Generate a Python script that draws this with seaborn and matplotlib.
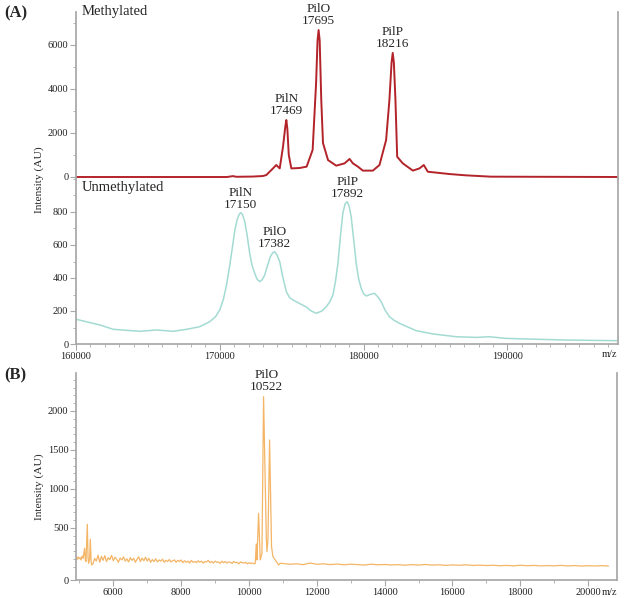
import pandas as pd
import seaborn as sns
import matplotlib.pyplot as plt
from matplotlib.ticker import MultipleLocator, FixedLocator

# (A) methylated trace, x in the axis units shown on the ticks
meth_mz = [160000, 170500, 170920, 171150, 172300, 173000, 173240, 173700, 173930, 174170,
           174400, 174560, 174630, 174700, 174800, 174980, 175560, 176040, 176460, 176700,
           176800, 176875, 176950, 177060, 177180, 177530, 178100, 178680, 179030, 179260,
           179610, 179950, 180650, 181110, 181570, 181800, 181950, 182030, 182110, 182220,
           182340, 182730, 183430, 183890, 184190, 184470, 185970, 187130, 188870, 197700]
meth_int = [0, 0, 40, 10, 20, 45, 90, 390, 545, 390,
            1380, 2300, 2590, 2200, 1000, 390, 410, 470, 1230, 4270,
            6200, 6680, 6200, 3500, 1545, 770, 515, 620, 820, 620,
            470, 290, 290, 545, 1680, 3500, 5200, 5640, 5200, 3500,
            920, 620, 290, 390, 545, 240, 135, 75, 15, 0]

# (A) unmethylated trace
unmeth_mz = [160000, 161670, 162590, 164440, 165600, 166760, 167690, 168610, 169300, 169700,
             170000, 170250, 170470, 170700, 170920, 171050, 171200, 171350, 171460, 171580,
             171740, 171900, 172080, 172250, 172430, 172600, 172780, 172950, 173125, 173320,
             173520, 173680, 173820, 173980, 174170, 174400, 174630, 174850, 175090, 175560,
             176000, 176370, 176715, 177100, 177410, 177650, 177870, 178050, 178220, 178400,
             178560, 178720, 178870, 179000, 179140, 179320, 179490, 179660, 179840, 180000,
             180190, 180450, 180760, 181000, 181230, 181500, 181800, 182100, 182500, 183660,
             184820, 186440, 187830, 188750, 189910, 194080, 197700]
unmeth_int = [150, 115, 89, 77, 85, 77, 89, 105, 135, 165,
              206, 270, 358, 480, 610, 690, 751, 785, 796, 785,
              741, 660, 550, 475, 428, 392, 378, 390, 418, 475,
              529, 553, 559, 540, 499, 400, 317, 282, 267, 245,
              225, 200, 186, 200, 226, 255, 297, 380, 489, 660,
              792, 850, 862, 835, 771, 630, 489, 395, 337, 305,
              291, 300, 307, 285, 256, 205, 166, 145, 125, 81,
              61, 44, 40, 44, 34, 24, 20]

meth_peaks = [(174630, 2590, "PilN\n17469"), (176875, 6680, "PilO\n17695"), (182030, 5640, "PilP\n18216")]
unmeth_peaks = [(171460, 796, "PilN\n17150"), (173820, 559, "PilO\n17382"), (178870, 862, "PilP\n17892")]

# (B) spectrum
b_mz = [4900, 4930, 4960, 4990, 5020, 5050, 5080, 5110, 5154, 5175, 5195, 5234, 5255, 5272,
        5300, 5322, 5345, 5361,
        5400, 5450, 5500, 5550, 5600, 5650, 5700, 5750, 5800, 5850, 5900, 5950, 6000, 6050,
        6100, 6150, 6200, 6250, 6300, 6350, 6400, 6450, 6500, 6550, 6600, 6650, 6700, 6750,
        6800, 6850, 6900, 6950, 7000, 7050, 7100, 7150, 7200, 7250, 7300, 7350, 7400, 7450,
        7500, 7550, 7600, 7650, 7700, 7750, 7800, 7850, 7900, 7950, 8000, 8050, 8100, 8150,
        8200, 8250, 8300, 8350, 8400, 8450, 8500, 8550, 8600, 8650, 8700, 8750, 8800, 8850,
        8900, 8950, 9000, 9050, 9100, 9150, 9200, 9250, 9300, 9350, 9400, 9450, 9500, 9550,
        9600, 9650, 9700, 9750, 9800, 9850, 9900, 9950, 10000, 10050, 10100, 10150,
        10185, 10214, 10234, 10283, 10332, 10382, 10430, 10510, 10530, 10559, 10607, 10665,
        10706, 10774, 10872, 10921,
        11000, 11200, 11400, 11600, 11800, 12000, 12200, 12400, 12600, 12800, 13000, 13200,
        13400, 13600, 13800, 14000, 14200, 14400, 14600, 14800, 15000, 15200, 15400, 15600,
        15800, 16000, 16200, 16400, 16600, 16800, 17000, 17200, 17400, 17600, 17800, 18000,
        18200, 18400, 18600, 18800, 19000, 19200, 19400, 19600, 19800, 20000, 20200, 20400,
        20600]
b_int = [115, 95, 130, 105, 120, 90, 140, 110, 240, 90, 70, 547, 120, 47,
         100, 355, 80, 26,
         40, 110, 75, 150, 60, 135, 85, 145, 70, 120, 95, 150, 80, 125,
         100, 60, 115, 90, 130, 75, 105, 65, 120, 85, 110, 60, 100, 130,
         70, 115, 80, 125, 75, 110, 60, 95, 70, 105, 65, 90, 75, 100,
         60, 85, 70, 95, 65, 80, 90, 60, 85, 70, 90, 55, 80, 60,
         75, 50, 85, 60, 70, 55, 80, 60, 75, 50, 70, 65, 85, 55,
         70, 50, 75, 60, 65, 45, 75, 55, 70, 50, 65, 60, 45, 70,
         55, 60, 40, 65, 55, 50, 60, 40, 55, 45, 50, 40,
         47, 295, 90, 688, 90, 175, 2183, 389, 197, 346, 1628, 260,
         132, 90, 26, 47,
         45, 35, 40, 30, 50, 35, 40, 30, 38, 28, 36, 30,
         25, 35, 28, 32, 26, 30, 22, 30, 25, 32, 24, 28,
         20, 26, 22, 28, 20, 24, 18, 22, 16, 20, 15, 22,
         16, 20, 14, 18, 15, 20, 14, 18, 12, 16, 13, 17,
         12]
b_peak = (10510, 2183, "PilO\n10522")

df_meth = pd.DataFrame({"mz": meth_mz, "intensity": meth_int})
df_unmeth = pd.DataFrame({"mz": unmeth_mz, "intensity": unmeth_int})
df_b = pd.DataFrame({"mz": b_mz, "intensity": b_int})

sns.set_theme(style="ticks")
plt.rcParams["font.family"] = ["Liberation Serif", "DejaVu Serif"]
plt.rcParams["axes.edgecolor"] = "#a8a8a8"
plt.rcParams["xtick.color"] = "#a8a8a8"
plt.rcParams["ytick.color"] = "#a8a8a8"
plt.rcParams["xtick.labelcolor"] = "#222222"
plt.rcParams["ytick.labelcolor"] = "#222222"

W, H = 625, 598
fig = plt.figure(figsize=(W / 100, H / 100), dpi=100)


def px_axes(x0, x1, y0, y1):
    return fig.add_axes([x0 / W, 1 - y1 / H, (x1 - x0) / W, (y1 - y0) / H])


ax_top = px_axes(76, 618, 12, 179)
ax_low = px_axes(76, 618, 179, 344)
ax_b = px_axes(76, 617, 373, 580)

red = "#b3232a"
cyan = "#a3dbd3"
orange = "#f4b566"

sns.lineplot(data=df_meth, x="mz", y="intensity", ax=ax_top, color=red, linewidth=1.4,
             estimator=None, sort=False)
sns.lineplot(data=df_unmeth, x="mz", y="intensity", ax=ax_low, color=cyan, linewidth=1.1,
             estimator=None, sort=False)
sns.lineplot(data=df_b, x="mz", y="intensity", ax=ax_b, color=orange, linewidth=0.9,
             estimator=None, sort=False)

for ax in (ax_top, ax_low, ax_b):
    ax.set_xlabel("")
    ax.set_ylabel("")
    ax.spines["top"].set_visible(False)
    ax.spines["right"].set_visible(True)
    ax.tick_params(which="major", length=4, width=0.8, labelsize=7.5, pad=1.5)
    ax.tick_params(which="minor", length=2.5, width=0.6)

# top (methylated)
ax_top.set_xlim(160000, 197700)
ax_top.set_ylim(-91, 7500)
ax_top.spines["bottom"].set_visible(False)
ax_top.tick_params(axis="x", which="both", bottom=False, labelbottom=False)
ax_top.yaxis.set_major_locator(FixedLocator([0, 2000, 4000, 6000]))
ax_top.yaxis.set_minor_locator(MultipleLocator(1000))
ax_top.text(0.01, 1.0, "Methylated", transform=ax_top.transAxes, ha="left", va="center",
            fontsize=10.5)

# lower (unmethylated)
ax_low.set_xlim(160000, 197700)
ax_low.set_ylim(0, 1000)
ax_low.spines["top"].set_visible(False)
ax_low.yaxis.set_major_locator(FixedLocator([0, 200, 400, 600, 800]))
ax_low.yaxis.set_minor_locator(MultipleLocator(100))
ax_low.xaxis.set_major_locator(FixedLocator([160000, 170000, 180000, 190000]))
ax_low.xaxis.set_minor_locator(MultipleLocator(1000))
ax_low.text(0.01, 0.95, "Unmethylated", transform=ax_low.transAxes, ha="left", va="center",
            fontsize=10.5)
ax_low.text(0.985, -0.035, "m/z", transform=ax_low.transAxes, ha="center", va="top",
            fontsize=7.5, color="#222222")

for x, y, lab in meth_peaks:
    ax_top.annotate(lab, (x, y), xytext=(0, 2), textcoords="offset points", ha="center",
                    va="bottom", fontsize=9.5, linespacing=1.0, annotation_clip=False)
for x, y, lab in unmeth_peaks:
    ax_low.annotate(lab, (x, y), xytext=(0, 1), textcoords="offset points", ha="center",
                    va="bottom", fontsize=9.5, linespacing=1.0, annotation_clip=False)

# (B)
ax_b.set_xlim(4900, 20850)
ax_b.set_ylim(-167, 2487)
ax_b.yaxis.set_major_locator(FixedLocator([-167, 500, 1000, 1500, 2000]))
ax_b.set_yticklabels(["0", "500", "1000", "1500", "2000"])
ax_b.yaxis.set_minor_locator(FixedLocator([v for v in range(0, 2500, 100) if v % 500 != 0 or v == 0]))
ax_b.xaxis.set_major_locator(FixedLocator([6000, 8000, 10000, 12000, 14000, 16000, 18000, 20000]))
ax_b.xaxis.set_minor_locator(MultipleLocator(1000))
ax_b.text(0.986, -0.04, "m/z", transform=ax_b.transAxes, ha="center", va="top",
          fontsize=7.5, color="#222222")
ax_b.annotate(b_peak[2], (b_peak[0], b_peak[1]), xytext=(0, 3), textcoords="offset points",
              ha="center", va="bottom", fontsize=9.5, linespacing=1.0, annotation_clip=False)

# panel letters and axis titles
fig.text(4 / W, 1 - 13 / H, "(A)", fontsize=12, fontweight="bold", ha="left", va="center")
fig.text(4 / W, 1 - 375 / H, "(B)", fontsize=12, fontweight="bold", ha="left", va="center")
fig.text(39 / W, 1 - 180 / H, "Intensity (AU)", rotation=90, fontsize=8.2, ha="center", va="center")
fig.text(39 / W, 1 - 487 / H, "Intensity (AU)", rotation=90, fontsize=8.2, ha="center", va="center")

plt.savefig("out.png", dpi=100)
